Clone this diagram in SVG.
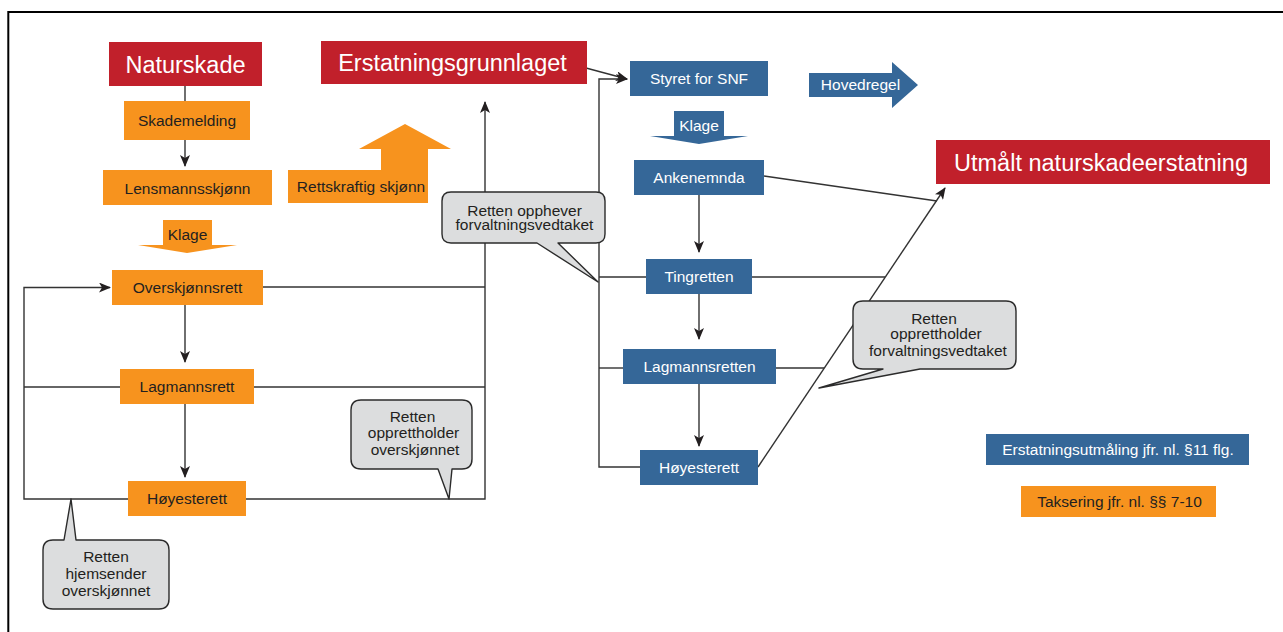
<svg xmlns="http://www.w3.org/2000/svg" width="1283" height="632" viewBox="0 0 1283 632">
<style>
text{font-family:"Liberation Sans",Arial,sans-serif;text-anchor:middle}
.big{font-size:23.5px;fill:#fff}
.sm{font-size:15.5px}
.dk{fill:#231f20}
.wt{fill:#fff}
.red{fill:#c1202b}
.org{fill:#f7931e}
.blu{fill:#356798}
.call{fill:#dcddde;stroke:#2b2b2b;stroke-width:1.4;stroke-linejoin:round}
.ln{fill:none;stroke:#333;stroke-width:1.4}
</style>
<defs>
<marker id="ah" markerUnits="userSpaceOnUse" markerWidth="12" markerHeight="10" viewBox="0 0 12 10" refX="11" refY="5" orient="auto">
<path d="M0,0 L12,5 L0,10 L3,5 Z" fill="#231f20"/>
</marker>
</defs>
<rect width="1283" height="632" fill="#fff"/>
<path d="M8.3,632 V12 H1283" fill="none" stroke="#000" stroke-width="2"/>

<g id="connectors">
<path class="ln" d="M185,86 V101"/>
<path class="ln" d="M185,140 V166" marker-end="url(#ah)"/>
<path class="ln" d="M185,305 V362" marker-end="url(#ah)"/>
<path class="ln" d="M185,404 V477" marker-end="url(#ah)"/>
<path class="ln" d="M128,499 H24 V287.5 H110" marker-end="url(#ah)"/>
<path class="ln" d="M120,387 H24"/>
<path class="ln" d="M263,287 H485"/>
<path class="ln" d="M254,387 H485"/>
<path class="ln" d="M246,499 H485 V102" marker-end="url(#ah)"/>
<path class="ln" d="M586,68 L627,79" marker-end="url(#ah)"/>
<path class="ln" d="M640,467 H599 V79 H627" marker-end="url(#ah)"/>
<path class="ln" d="M646,277 H599"/>
<path class="ln" d="M623,368 H599"/>
<path class="ln" d="M699,195 V252" marker-end="url(#ah)"/>
<path class="ln" d="M699,294 V339" marker-end="url(#ah)"/>
<path class="ln" d="M699,384 V446" marker-end="url(#ah)"/>
<path class="ln" d="M764,176 L937,201"/>
<path class="ln" d="M752,277 H885"/>
<path class="ln" d="M776,368 H824"/>
<path class="ln" d="M758,467 L945,188" marker-end="url(#ah)"/>
</g>

<g id="naturskade"><rect class="red" x="109" y="42" width="153" height="44"/><text class="big" x="185.5" y="72.5">Naturskade</text></g>
<g id="skademelding"><rect class="org" x="124" y="101" width="126" height="39"/><text class="sm dk" x="187" y="126">Skademelding</text></g>
<g id="lensmannsskjonn"><rect class="org" x="103" y="170" width="169" height="35"/><text class="sm dk" x="187.5" y="193.5">Lensmannsskjønn</text></g>
<g id="klage1"><polygon class="org" points="163,220 212,220 212,245 237,245 187,253 138,245 163,245"/><text class="sm dk" x="187.5" y="240">Klage</text></g>
<g id="overskjonnsrett"><rect class="org" x="112" y="270" width="151" height="35"/><text class="sm dk" x="187.5" y="293">Overskjønnsrett</text></g>
<g id="lagmannsrett"><rect class="org" x="120" y="369" width="134" height="35"/><text class="sm dk" x="187" y="392">Lagmannsrett</text></g>
<g id="hoyesterett1"><rect class="org" x="128" y="481" width="118" height="35"/><text class="sm dk" x="187" y="504">Høyesterett</text></g>

<g id="erstatningsgrunnlaget"><rect class="red" x="321" y="41" width="266" height="43"/><text class="big" x="452.5" y="71">Erstatningsgrunnlaget</text></g>
<g id="rettskraftig"><polygon class="org" points="288,170 381,170 381,149 359,149 405,124 451,149 428,149 428,203 288,203"/><text class="sm dk" x="361" y="192">Rettskraftig skjønn</text></g>

<g id="styret"><rect class="blu" x="630" y="61" width="138" height="35"/><text class="sm wt" x="699" y="84">Styret for SNF</text></g>
<g id="hovedregel"><polygon class="blu" points="809,73 892,73 892,62 918,85 892,108 892,97 809,97"/><text class="sm wt" x="860.5" y="89.5">Hovedregel</text></g>
<g id="klage2"><polygon class="blu" points="674,111 724,111 724,136 748,136 699,144 650,136 674,136"/><text class="sm wt" x="699" y="131">Klage</text></g>
<g id="ankenemnda"><rect class="blu" x="634" y="160" width="130" height="35"/><text class="sm wt" x="699" y="183">Ankenemnda</text></g>
<g id="tingretten"><rect class="blu" x="646" y="259" width="106" height="35"/><text class="sm wt" x="699" y="282">Tingretten</text></g>
<g id="lagmannsretten"><rect class="blu" x="623" y="349" width="153" height="35"/><text class="sm wt" x="699.5" y="372">Lagmannsretten</text></g>
<g id="hoyesterett2"><rect class="blu" x="640" y="450" width="118" height="35"/><text class="sm wt" x="699" y="473">Høyesterett</text></g>

<g id="utmalt"><rect class="red" x="936" y="140" width="334" height="44"/><text class="big" x="1101" y="170.5">Utmålt naturskadeerstatning</text></g>
<g id="erstatningsutmaling"><rect class="blu" x="986" y="434" width="263" height="31"/><text class="sm wt" x="1118" y="455">Erstatningsutmåling jfr. nl. §11 flg.</text></g>
<g id="taksering"><rect class="org" x="1021" y="486" width="195" height="31"/><text class="sm dk" x="1119.5" y="507">Taksering jfr. nl. §§ 7-10</text></g>

<g id="callout-opphever"><path class="call" d="M451,192 H596 Q605,192 605,201 V234 Q605,243 596,243 H558 L598,282 L537,243 H451 Q442,243 442,234 V201 Q442,192 451,192 Z"/><text class="sm dk" x="524.5" y="215.5">Retten opphever</text><text class="sm dk" x="524.5" y="230">forvaltningsvedtaket</text></g>
<g id="callout-oppretth-overskj"><path class="call" d="M361,400 H462 Q472,400 472,410 V459 Q472,469 462,469 H452 L449,499 L438,469 H361 Q351,469 351,459 V410 Q351,400 361,400 Z"/><text class="sm dk" x="412.5" y="421.5">Retten</text><text class="sm dk" x="413.5" y="437.5">opprettholder</text><text class="sm dk" x="415" y="454.5">overskjønnet</text></g>
<g id="callout-hjemsender"><path class="call" d="M53,540 H64 L71,499 L76,540 H159 Q169,540 169,550 V599 Q169,609 159,609 H53 Q43,609 43,599 V550 Q43,540 53,540 Z"/><text class="sm dk" x="106" y="562">Retten</text><text class="sm dk" x="106" y="578.5">hjemsender</text><text class="sm dk" x="106" y="595.5">overskjønnet</text></g>
<g id="callout-oppretth-forv"><path class="call" d="M863,301 H1006 Q1016,301 1016,311 V359 Q1016,369 1006,369 H920 L819,388 L883,369 H863 Q853,369 853,359 V311 Q853,301 863,301 Z"/><text class="sm dk" x="934" y="323.5">Retten</text><text class="sm dk" x="936" y="339">opprettholder</text><text class="sm dk" x="938" y="355.5">forvaltningsvedtaket</text></g>
</svg>
